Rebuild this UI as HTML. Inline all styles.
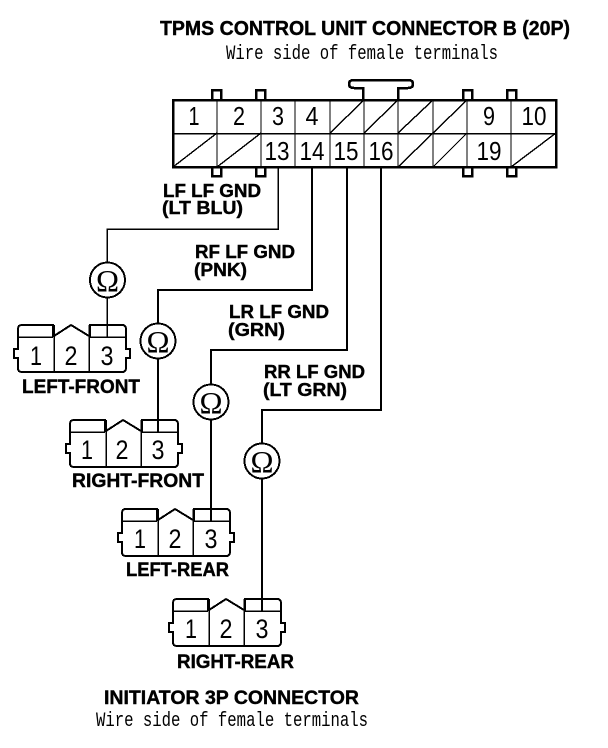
<!DOCTYPE html>
<html><head><meta charset="utf-8"><style>
html,body{margin:0;padding:0;background:#fff}
svg{display:block;shape-rendering:crispEdges}
.b{font-family:"Liberation Sans",sans-serif;font-weight:bold;fill:#000;stroke:#000;stroke-width:.4px}
.m{font-family:"Liberation Mono",monospace;font-size:20px;fill:#000}
.n{font-family:"Liberation Sans",sans-serif;font-size:26px;fill:#000;text-anchor:middle}
.o{font-family:"Liberation Serif",serif;font-size:31px;fill:#000;text-anchor:middle}
</style></head><body>
<svg width="608" height="748" viewBox="0 0 608 748" xmlns="http://www.w3.org/2000/svg">
<rect width="608" height="748" fill="#fff"/>
<text class="b" x="160" y="35" font-size="20" textLength="410" lengthAdjust="spacingAndGlyphs">TPMS CONTROL UNIT CONNECTOR B (20P)</text>
<text class="m" x="226" y="59" textLength="272" lengthAdjust="spacingAndGlyphs">Wire side of female terminals</text>

<!-- tabs -->
<g fill="none" stroke="#000" stroke-width="2.5">
<path d="M212 99V90H221V99M256 99V90H265V99M463 99V90H472V99M507 99V90H516V99"/>
<path d="M212 167V176H221V167M256 167V176H265V167M463 167V176H472V167M507 167V176H516V167"/>
<path d="M363 99V88H354Q349 88 349 84Q349 80 354 80H408Q413 80 413 84Q413 88 408 88H398V99"/>
</g>
<!-- main box -->
<rect x="173" y="100" width="383" height="67" fill="#fff" stroke="#000" stroke-width="2.5"/>
<g stroke="#000" fill="none">
<path stroke-width="1.5" d="M173 133.500H556"/>
<path stroke-width="1.200" d="M217 100V167M261 100V167M295 100V167M330 100V167M364 100V167M398 100V167M433 100V167M467 100V167M511 100V167"/>
<path stroke-width="1.400" d="M330 133L364 100M364 133L398 100M398 133L433 100M433 133L467 100M173 167L217 133M217 167L261 133M398 167L433 133M433 167L467 133M511 167L556 133"/>
</g>
<text class="n" x="194" y="125" textLength="11" lengthAdjust="spacingAndGlyphs">1</text><text class="n" x="239" y="125" textLength="12" lengthAdjust="spacingAndGlyphs">2</text><text class="n" x="278" y="125" textLength="12" lengthAdjust="spacingAndGlyphs">3</text><text class="n" x="312" y="125" textLength="13" lengthAdjust="spacingAndGlyphs">4</text><text class="n" x="489" y="125" textLength="12" lengthAdjust="spacingAndGlyphs">9</text><text class="n" x="534" y="125" textLength="25" lengthAdjust="spacingAndGlyphs">10</text>
<text class="n" x="277" y="160" textLength="25" lengthAdjust="spacingAndGlyphs">13</text><text class="n" x="312" y="160" textLength="25" lengthAdjust="spacingAndGlyphs">14</text><text class="n" x="346" y="160" textLength="25" lengthAdjust="spacingAndGlyphs">15</text><text class="n" x="381" y="160" textLength="25" lengthAdjust="spacingAndGlyphs">16</text><text class="n" x="489" y="160" textLength="25" lengthAdjust="spacingAndGlyphs">19</text>

<!-- wires -->
<g fill="none" stroke="#000" stroke-width="1.500">
<path d="M278 167V229H107V337"/>
<path stroke-width="2" d="M312 167V290H158V432"/>
<path stroke-width="2" d="M347 167V350H211V521"/>
<path stroke-width="2" d="M381 167V410H262V611"/>
</g>

<!-- omega meters -->
<g fill="#fff" stroke="#000" stroke-width="2">
<circle cx="107.500" cy="280" r="17.500"/><circle cx="158" cy="341" r="17.500"/><circle cx="211" cy="402" r="17.500"/><circle cx="262" cy="461" r="17.500"/>
</g>
<text class="o" x="107.500" y="291">Ω</text><text class="o" x="158" y="352">Ω</text><text class="o" x="211" y="413">Ω</text><text class="o" x="262" y="472">Ω</text>

<!-- 3P connectors -->
<g fill="none" stroke="#000" stroke-width="2">
<g transform="translate(0,0)">
<path d="M18 337V329Q18 325 22 325H53V337M54 336L71 325L89 336M90 337V325H122Q126 325 126 329V337"/>
<path d="M18 337H53M90 337H126" stroke-width="1.500"/>
<path d="M18 337V349H14V358H18V368Q18 372 22 372H122Q126 372 126 368V358H130V349H126V337"/>
<path d="M54 325V372M89 325V372" stroke-width="1.500"/>
</g>
<g transform="translate(52,95)">
<path d="M18 337V329Q18 325 22 325H53V337M54 336L71 325L89 336M90 337V325H122Q126 325 126 329V337"/>
<path d="M18 337H53M90 337H126" stroke-width="1.500"/>
<path d="M18 337V349H14V358H18V368Q18 372 22 372H122Q126 372 126 368V358H130V349H126V337"/>
<path d="M54 325V372M89 325V372" stroke-width="1.500"/>
</g>
<g transform="translate(104,184)">
<path d="M18 337V329Q18 325 22 325H53V337M54 336L71 325L89 336M90 337V325H122Q126 325 126 329V337"/>
<path d="M18 337H53M90 337H126" stroke-width="1.500"/>
<path d="M18 337V349H14V358H18V368Q18 372 22 372H122Q126 372 126 368V358H130V349H126V337"/>
<path d="M54 325V372M89 325V372" stroke-width="1.500"/>
</g>
<g transform="translate(155,274)">
<path d="M18 337V329Q18 325 22 325H53V337M54 336L71 325L89 336M90 337V325H122Q126 325 126 329V337"/>
<path d="M18 337H53M90 337H126" stroke-width="1.500"/>
<path d="M18 337V349H14V358H18V368Q18 372 22 372H122Q126 372 126 368V358H130V349H126V337"/>
<path d="M54 325V372M89 325V372" stroke-width="1.500"/>
</g>
</g>
<g font-size="27">
<text class="n" style="font-size:27px" x="36" y="365" textLength="12" lengthAdjust="spacingAndGlyphs">1</text><text class="n" style="font-size:27px" x="71" y="365" textLength="13" lengthAdjust="spacingAndGlyphs">2</text><text class="n" style="font-size:27px" x="107" y="365" textLength="13" lengthAdjust="spacingAndGlyphs">3</text>
<text class="n" style="font-size:27px" x="87" y="459" textLength="12" lengthAdjust="spacingAndGlyphs">1</text><text class="n" style="font-size:27px" x="122" y="459" textLength="13" lengthAdjust="spacingAndGlyphs">2</text><text class="n" style="font-size:27px" x="158" y="459" textLength="13" lengthAdjust="spacingAndGlyphs">3</text>
<text class="n" style="font-size:27px" x="140" y="548" textLength="12" lengthAdjust="spacingAndGlyphs">1</text><text class="n" style="font-size:27px" x="175" y="548" textLength="13" lengthAdjust="spacingAndGlyphs">2</text><text class="n" style="font-size:27px" x="211" y="548" textLength="13" lengthAdjust="spacingAndGlyphs">3</text>
<text class="n" style="font-size:27px" x="191" y="638" textLength="12" lengthAdjust="spacingAndGlyphs">1</text><text class="n" style="font-size:27px" x="226" y="638" textLength="13" lengthAdjust="spacingAndGlyphs">2</text><text class="n" style="font-size:27px" x="262" y="638" textLength="13" lengthAdjust="spacingAndGlyphs">3</text>
</g>

<!-- labels -->
<text class="b" x="22" y="393" font-size="19" textLength="118" lengthAdjust="spacingAndGlyphs">LEFT-FRONT</text>
<text class="b" x="72" y="487" font-size="19" textLength="132" lengthAdjust="spacingAndGlyphs">RIGHT-FRONT</text>
<text class="b" x="126" y="576" font-size="19" textLength="103" lengthAdjust="spacingAndGlyphs">LEFT-REAR</text>
<text class="b" x="177" y="668" font-size="19" textLength="117" lengthAdjust="spacingAndGlyphs">RIGHT-REAR</text>
<text class="b" x="104" y="704" font-size="19" textLength="255" lengthAdjust="spacingAndGlyphs">INITIATOR 3P CONNECTOR</text>
<text class="m" x="96" y="726" textLength="272" lengthAdjust="spacingAndGlyphs">Wire side of female terminals</text>

<text class="b" x="163" y="197" font-size="18" textLength="98" lengthAdjust="spacingAndGlyphs">LF LF GND</text>
<text class="b" x="162" y="214" font-size="18" textLength="81" lengthAdjust="spacingAndGlyphs">(LT BLU)</text>
<text class="b" x="195" y="258" font-size="18" textLength="100" lengthAdjust="spacingAndGlyphs">RF LF GND</text>
<text class="b" x="194" y="276" font-size="18" textLength="53" lengthAdjust="spacingAndGlyphs">(PNK)</text>
<text class="b" x="229" y="318" font-size="18" textLength="100" lengthAdjust="spacingAndGlyphs">LR LF GND</text>
<text class="b" x="228" y="336" font-size="18" textLength="57" lengthAdjust="spacingAndGlyphs">(GRN)</text>
<text class="b" x="264" y="378" font-size="18" textLength="101" lengthAdjust="spacingAndGlyphs">RR LF GND</text>
<text class="b" x="263" y="396" font-size="18" textLength="84" lengthAdjust="spacingAndGlyphs">(LT GRN)</text>
</svg>
</body></html>
